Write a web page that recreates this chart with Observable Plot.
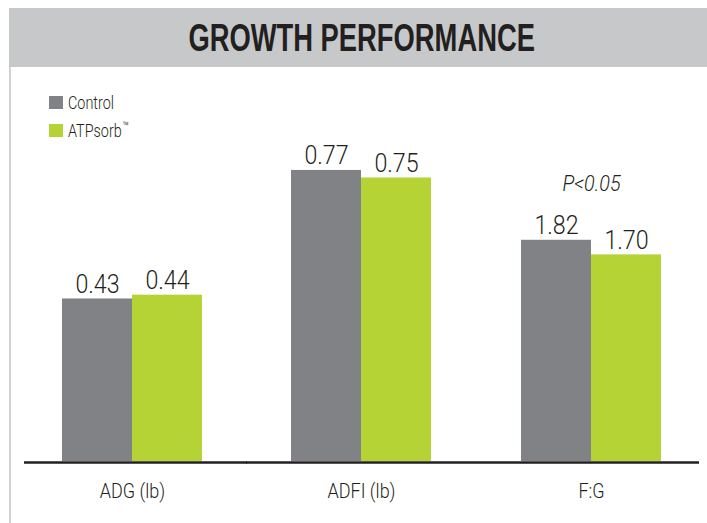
<!DOCTYPE html>
<html><head><meta charset="utf-8">
<script src="https://cdn.jsdelivr.net/npm/d3@7"></script>
<script src="https://cdn.jsdelivr.net/npm/@observablehq/plot@0.6"></script>
<style>
body{margin:0;background:#fff;}
#wrap{position:relative;width:707px;height:523px;overflow:hidden;font-family:Roboto,"Liberation Sans",sans-serif;color:#231f20;}
#border{position:absolute;left:9px;top:8px;width:2px;height:515px;background:#d1d2d4;}
#titlebar{position:absolute;left:9px;top:8px;width:698px;height:59px;background:#c7c8ca;display:flex;align-items:center;justify-content:center;}
#title{font-family:"Liberation Sans",Arial,sans-serif;font-weight:bold;font-size:38px;color:#231f20;transform:scaleX(0.72);white-space:nowrap;margin-left:8px;line-height:1;}
.panel{position:absolute;top:0;}
.leg{position:absolute;left:49px;font-size:18px;font-weight:300;line-height:13px;display:flex;align-items:center;white-space:nowrap;}
.sw{width:14px;height:13px;margin-right:5px;flex:none;}
.lt{display:inline-block;transform:scaleX(0.8);transform-origin:0 50%;}
.tm{font-size:13px;vertical-align:top;position:relative;top:-4px;margin-left:1px;}
</style></head>
<body>
<div id="wrap">
  <div id="border"></div>
  <div id="titlebar"><div id="title">GROWTH PERFORMANCE</div></div>
</div>
<script>
const groups = ["ADG (lb)", "ADFI (lb)", "F:G"];
const series = ["Control", "ATPsorb™"];
const control = [0.43, 0.77, 1.82];
const atpsorb = [0.44, 0.75, 1.70];
const notes = ["", "", "P<0.05"];
const yMax = [1, 1, 3.11];
const colors = ["#808285", "#b5d334"];

const wrap = document.getElementById("wrap");
series.forEach((s, i) => {
  const d = document.createElement("div");
  d.className = "leg";
  d.style.top = (96 + i * 28) + "px";
  const label = s.includes("™") ? s.replace("™", "") + '<span class="tm">™</span>' : s;
  d.innerHTML = `<div class="sw" style="background:${colors[i]}"></div><span class="lt">${label}</span>`;
  wrap.appendChild(d);
});

const fmt = d3.format(".2f");
const lefts = [17, 246, 476];
const font = 'Roboto,"Liberation Sans",sans-serif';

function condense(svg, selector, s) {
  svg.querySelectorAll(selector).forEach(t => {
    const tr = t.getAttribute("transform");
    if (tr) {
      t.setAttribute("transform", tr + ` scale(${s},1)`);
    } else {
      const x = +t.getAttribute("x") || 0, y = +t.getAttribute("y") || 0;
      t.setAttribute("x", 0); t.setAttribute("y", 0);
      t.setAttribute("transform", `translate(${x},${y}) scale(${s},1)`);
    }
  });
}

groups.forEach((g, i) => {
  const rows = [
    {group: g, series: series[0], value: control[i]},
    {group: g, series: series[1], value: atpsorb[i]}
  ];
  const noteRows = notes[i] ? [{note: notes[i], top: Math.max(control[i], atpsorb[i])}] : [];
  const p = Plot.plot({
    width: 230, height: 523,
    marginLeft: 0, marginRight: 0, marginTop: 83, marginBottom: 62,
    style: {fontFamily: font, fontWeight: 300, background: "transparent", overflow: "visible"},
    x: {domain: series, range: [45, 185], padding: 0, axis: null},
    y: {domain: [0, yMax[i]], axis: null},
    color: {domain: series, range: colors},
    marks: [
      Plot.barY(rows, {x: "series", y: "value", fill: "series"}),
      Plot.text(rows, {x: "series", y: "value", text: d => fmt(d.value), lineAnchor: "bottom", dy: -6, fontSize: 25, fill: "#231f20", className: "val"}),
      Plot.ruleY([0], {stroke: "#231f20", strokeWidth: 2.5, dy: 1, insetLeft: i === 0 ? 7 : 0, insetRight: i === 2 ? 7 : 0}),
      Plot.text([g], {text: d => d, frameAnchor: "bottom", lineAnchor: "middle", dy: 30, fontSize: 20, fill: "#231f20", className: "grp"}),
      Plot.text(noteRows, {y: "top", text: "note", frameAnchor: "middle", lineAnchor: "bottom", dy: -49, fontSize: 22, fontStyle: "italic", fill: "#231f20", className: "note"})
    ]
  });
  condense(p, ".val text", 0.93);
  condense(p, ".grp text", 0.9);
  condense(p, ".note text", 0.9);
  p.classList.add("panel");
  p.style.left = lefts[i] + "px";
  wrap.appendChild(p);
});
</script>
</body></html>
